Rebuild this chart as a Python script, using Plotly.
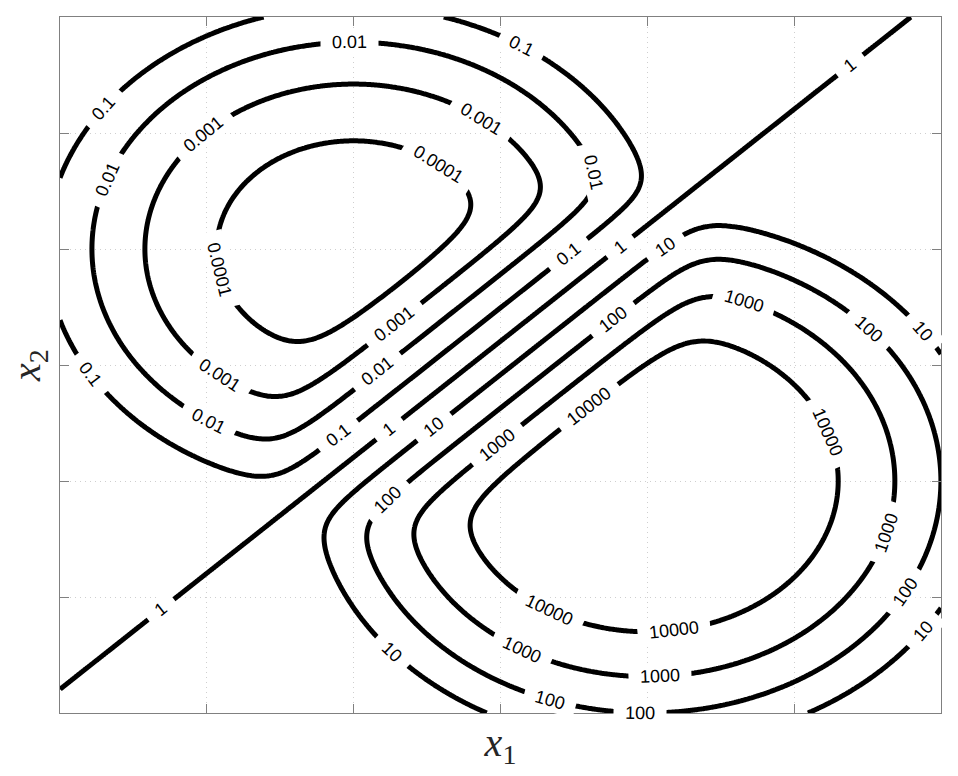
import math
import numpy as np
import plotly.graph_objects as go

# ---- chart values ----
LEVELS = [1e-4, 1e-3, 1e-2, 1e-1, 1, 10, 100, 1000, 10000]          # contour levels
LEVEL_TEXT = ["0.0001", "0.001", "0.01", "0.1", "1", "10", "100", "1000", "10000"]
AXIS_RANGE = [-3, 3]                                                 # x1 and x2 limits
TICKS = [-2, -1, 0, 1, 2]                                            # grid/tick positions
CENTER_HIGH = [1.0, -1.0]     # centre of the high lobe (lower right)
CENTER_LOW = [-1.0, 1.0]      # centre of the low lobe (upper left)
LOG_AMP_HIGH = 12.59          # natural-log amplitude of the high lobe
LOG_AMP_LOW = 10.95           # natural-log amplitude of the low lobe
VARIANCE = 0.25               # common spread of both lobes
GRID_N = 401

# where the inline labels sit (approximate spots, snapped onto their contour)
LABEL_LEVEL = [0.1, 0.1, 0.1, 0.1, 0.1,
               0.01, 0.01, 0.01, 0.01, 0.01,
               0.001, 0.001, 0.001, 0.001,
               0.0001, 0.0001,
               1, 1, 1, 1,
               10, 10, 10, 10, 10,
               100, 100, 100, 100, 100, 100,
               1000, 1000, 1000, 1000, 1000,
               10000, 10000, 10000, 10000]
LABEL_HINT_X1 = [-2.693, 0.133, -2.809, -1.106, 0.454,
                 -1.025, -2.673, 0.590, -2.000, -0.834,
                 -2.000, -0.139, -1.910, -0.704,
                 -0.446, -1.896,
                 2.381, 0.815, -0.766, -2.305,
                 1.108, -0.459, 2.858, -0.752, 2.858,
                 0.760, -0.772, 2.497, 0.338, 2.743, 0.951,
                 1.646, -0.023, 0.154, 1.087, 2.634,
                 0.610, 2.198, 0.338, 1.176]
LABEL_HINT_X2 = [2.207, 2.733, -0.086, -0.603, 0.966,
                 2.776, 1.595, 1.655, -0.500, -0.060,
                 1.966, 2.112, -0.086, 0.328,
                 1.707, 0.830,
                 2.586, 1.017, -0.543, -2.112,
                 1.034, -0.534, 0.284, -2.483, -2.276,
                 0.405, -1.164, 0.302, -2.879, -1.948, -2.990,
                 0.517, -0.690, -2.448, -2.681, -1.448,
                 -0.362, -0.586, -2.103, -2.267]

# ---- layout geometry ----
W, H = 958, 776
M_L, M_R, M_T, M_B = 60, 17, 17, 63
SX = (W - M_L - M_R) / (AXIS_RANGE[1] - AXIS_RANGE[0])
SY = (H - M_T - M_B) / (AXIS_RANGE[1] - AXIS_RANGE[0])


def log10_field(x, y):
    ra = (x - CENTER_HIGH[0]) ** 2 + (y - CENTER_HIGH[1]) ** 2
    rb = (x - CENTER_LOW[0]) ** 2 + (y - CENTER_LOW[1]) ** 2
    return (np.logaddexp(LOG_AMP_HIGH - ra / (2 * VARIANCE), 0.0)
            - np.logaddexp(LOG_AMP_LOW - rb / (2 * VARIANCE), 0.0)) / np.log(10.0)


xs = np.linspace(AXIS_RANGE[0], AXIS_RANGE[1], GRID_N)
ys = np.linspace(AXIS_RANGE[0], AXIS_RANGE[1], GRID_N)
X, Y = np.meshgrid(xs, ys)
Z = log10_field(X, Y)
log_levels = [round(math.log10(v)) for v in LEVELS]

fig = go.Figure()
fig.add_trace(go.Contour(
    x=xs, y=ys, z=Z,
    autocontour=False,
    contours=dict(start=min(log_levels), end=max(log_levels), size=1,
                  coloring="none", showlabels=False),
    line=dict(color="black", width=5),
    showscale=False, hoverinfo="skip",
))

# inline labels: snap each spot onto its contour, align with the line
annotations = []
for lvl, hx, hy in zip(LABEL_LEVEL, LABEL_HINT_X1, LABEL_HINT_X2):
    target = math.log10(lvl)
    x, y = hx, hy
    h = 1e-5
    gx = gy = 0.0
    for _ in range(40):
        g = float(log10_field(x, y))
        gx = float(log10_field(x + h, y) - log10_field(x - h, y)) / (2 * h)
        gy = float(log10_field(x, y + h) - log10_field(x, y - h)) / (2 * h)
        n2 = gx * gx + gy * gy
        if n2 < 1e-14:
            break
        step = (g - target) / n2
        dx, dy = -step * gx, -step * gy
        dl = math.hypot(dx, dy)
        if dl > 0.2:
            dx, dy = dx * 0.2 / dl, dy * 0.2 / dl
        x, y = x + dx, y + dy
        if dl < 1e-7:
            break
    # tangent direction in screen pixels
    tx, ty = gy * SX, gx * SY
    ang = math.degrees(math.atan2(ty, tx))
    while ang > 90:
        ang -= 180
    while ang <= -90:
        ang += 180
    txt = LEVEL_TEXT[LEVELS.index(lvl)]
    pad = "\u00a0\u00a0"
    annotations.append(dict(
        x=x, y=y, xref="x", yref="y", showarrow=False,
        text=pad + txt + pad, textangle=ang,
        xanchor="center", yanchor="middle",
        font=dict(family="Liberation Sans, Arial, sans-serif", size=18, color="black"),
        bgcolor="white", borderpad=1,
    ))

axis_common = dict(
    range=AXIS_RANGE, tickvals=TICKS, showticklabels=False,
    showgrid=True, gridcolor="#cfcfcf", griddash="1px,4px", gridwidth=1,
    zeroline=False, showline=True, linecolor="#808080", linewidth=1,
    mirror="ticks", ticks="inside", ticklen=9, tickcolor="#808080",
)
fig.update_layout(
    width=W, height=H,
    margin=dict(l=M_L, r=M_R, t=M_T, b=M_B),
    paper_bgcolor="white", plot_bgcolor="white",
    showlegend=False,
    annotations=annotations,
    xaxis=dict(**axis_common,
               title=dict(text="<i>x</i><sub>1</sub>", standoff=14,
                          font=dict(family="Liberation Serif, serif", size=40, color="#262626"))),
    yaxis=dict(**axis_common,
               title=dict(text="<i>x</i><sub>2</sub>", standoff=6,
                          font=dict(family="Liberation Serif, serif", size=40, color="#262626"))),
)
fig.write_html("out.html")
